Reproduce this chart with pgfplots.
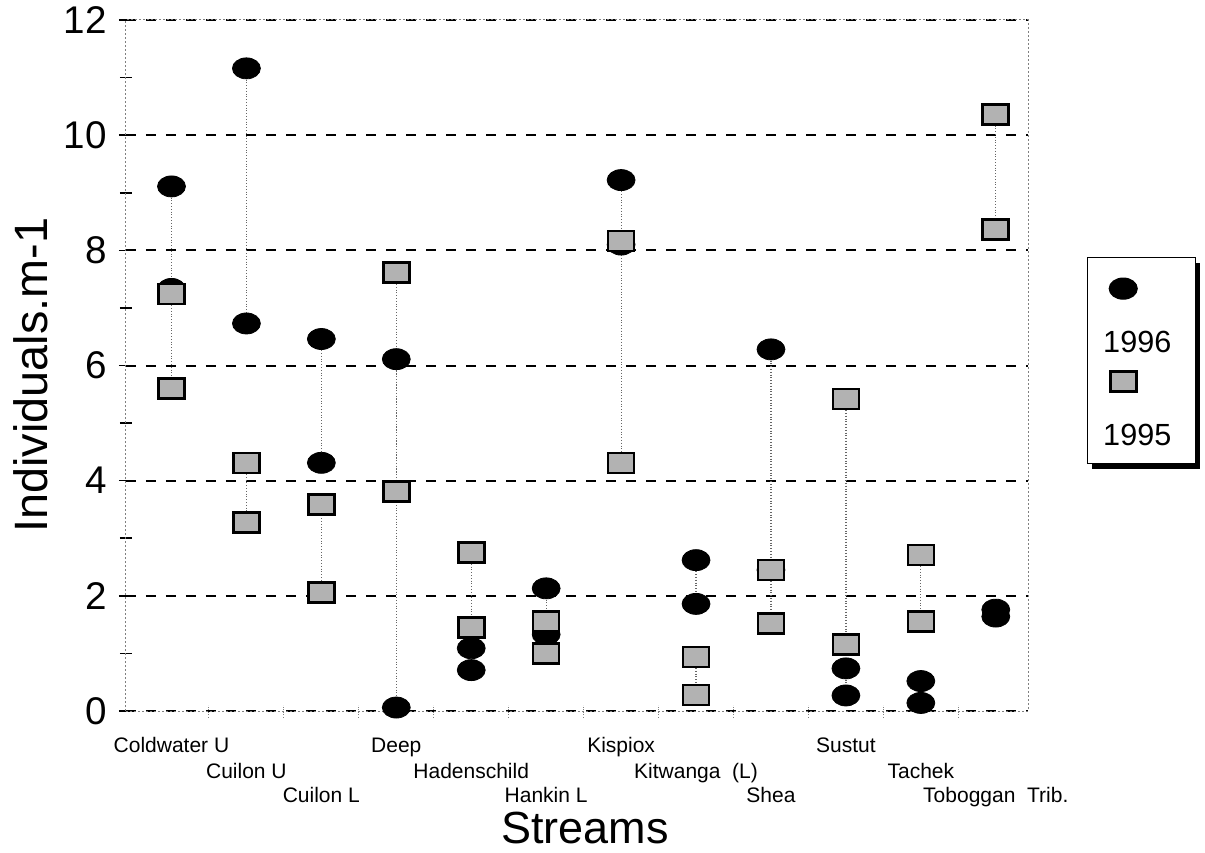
\documentclass[border=0pt]{standalone}
\usepackage{fontspec}
\setmainfont{Liberation Sans}
\usepackage{pgfplots}
\pgfplotsset{compat=1.18}
\usepackage{pgfplotstable}
\usetikzlibrary{shadows}

% 1996 series: two values per stream (high, low)
\pgfplotstableread{
x hi lo
0 9.11 7.33
1 11.16 6.73
2 6.46 4.31
3 6.11 0.06
4 1.09 0.71
5 2.13 1.33
6 9.22 8.10
7 2.62 1.86
8 6.28 2.45
9 0.74 0.27
10 0.52 0.14
11 1.76 1.64
}\tabA
% 1995 series
\pgfplotstableread{
x hi lo
0 7.24 5.60
1 4.31 3.27
2 3.59 2.06
3 7.61 3.81
4 2.75 1.45
5 1.55 1.00
6 8.16 4.31
7 0.94 0.28
8 2.45 1.52
9 5.42 1.16
10 2.71 1.55
11 10.36 8.36
}\tabB

\pgfplotsset{
  limg/.style={legend image code/.code={\draw[##1, overlay] plot coordinates {(14pt,32pt)};}},
  m96/.style={only marks, mark=*, mark size=5.25pt,
    mark options={xscale=1.33, fill=black, draw=black, solid}, limg},
  m95/.style={only marks, mark=square*, mark size=5pt,
    mark options={xscale=1.3, fill=black!30, draw=black, line width=1.3pt, solid}, limg},
  rng/.style={only marks, mark=none, forget plot,
    error bars/.cd, y dir=minus, y explicit, error mark=none,
    error bar style={black!60, densely dotted, line width=0.6pt}},
}

\begin{document}
\begin{tikzpicture}
\begin{axis}[name=ax, at={(0,0)}, anchor=south west,
  scale only axis, width=451pt, height=345.5pt,
  xmin=-0.607, xmax=11.43, ymin=0, ymax=12,
  x axis line style={black, line width=1pt},
  y axis line style={black!50, densely dotted, line width=0.5pt},
  xtick pos=bottom, ytick pos=left,
  xtick={0,...,11},
  xticklabels={
    \raisebox{-16.7pt}[0pt][0pt]{Coldwater U},
    \raisebox{-29.7pt}[0pt][0pt]{Cuilon U},
    \raisebox{-41.7pt}[0pt][0pt]{Cuilon L},
    \raisebox{-16.7pt}[0pt][0pt]{Deep},
    \raisebox{-29.7pt}[0pt][0pt]{Hadenschild},
    \raisebox{-41.7pt}[0pt][0pt]{Hankin L},
    \raisebox{-16.7pt}[0pt][0pt]{Kispiox},
    \raisebox{-29.7pt}[0pt][0pt]{Kitwanga\ \ (L)},
    \raisebox{-41.7pt}[0pt][0pt]{Shea},
    \raisebox{-16.7pt}[0pt][0pt]{Sustut},
    \raisebox{-29.7pt}[0pt][0pt]{Tachek},
    \raisebox{-41.7pt}[0pt][0pt]{Toboggan\ \ Trib.}},
  xticklabel style={anchor=north, inner sep=0pt, font=\fontsize{10.5}{12}\selectfont},
  minor xtick={0.5,1.5,...,10.5},
  ytick={0,2,...,12}, minor ytick={1,3,...,11},
  yticklabel style={font=\fontsize{19.3}{22}\selectfont, inner sep=0pt, anchor=east, xshift=-6pt},
  /pgf/number format/assume math mode=true,
  tick align=center,
  major tick length=7pt, minor tick length=6pt,
  major x tick style={draw=none},
  minor x tick style={black!50, densely dotted, line width=0.5pt},
  major y tick style={black, line width=0.8pt},
  minor y tick style={black, line width=0.8pt},
  ymajorgrids, major grid style={black, dash pattern=on 5pt off 5pt, line width=1pt},
  ylabel={Individuals.m-1},
  ylabel style={at={(axis description cs:-0.0865,0.486)}, anchor=base, inner sep=0pt,
    font=\fontsize{23.4}{28}\selectfont},
  xlabel={Streams},
  xlabel style={at={(axis description cs:0.509,0)}, anchor=base, yshift=-66pt, inner sep=0pt,
    font=\fontsize{22.5}{27}\selectfont},
  legend style={at={(axis description cs:1.065,0.657)}, anchor=north west,
    draw=black, line width=0.6pt, fill=white,
    drop shadow={shadow xshift=2.5pt, shadow yshift=-2.5pt, opacity=1, fill=black},
    inner xsep=4pt, inner ysep=5pt, column sep=0pt, row sep=0pt,
    cells={anchor=base west},
    nodes={inner xsep=4pt, inner ysep=0pt, text height=42.5pt, text depth=4pt,
      text width=38pt, font=\fontsize{15.3}{18}\selectfont}},
]
\addplot[rng] table[x=x, y=hi, y error expr=\thisrow{hi}-\thisrow{lo}] {\tabA};
\addplot[rng] table[x=x, y=hi, y error expr=\thisrow{hi}-\thisrow{lo}] {\tabB};
\addplot[m96] table[x=x, y=hi] {\tabA};
\addlegendentry{1996}
\addplot[m96, forget plot] table[x=x, y=lo] {\tabA};
\addplot[m95] table[x=x, y=hi] {\tabB};
\addlegendentry{1995}
\addplot[m95, forget plot] table[x=x, y=lo] {\tabB};
\end{axis}
\pgfresetboundingbox
\path (ax.south west) ++(-63pt,-70.5pt) rectangle ++(602.5pt,426pt);
\end{tikzpicture}
\end{document}
